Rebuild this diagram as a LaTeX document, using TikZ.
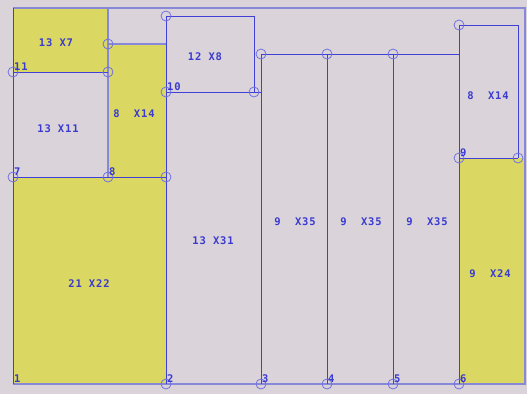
\documentclass[tikz,border=0pt]{standalone}
\usepackage{fontspec}
\newfontfamily\lblfont[LetterSpace=8]{DejaVu Sans Mono}
\definecolor{bgc}{RGB}{218,212,218}
\definecolor{yelc}{RGB}{218,216,98}
\definecolor{strongc}{RGB}{64,64,216}
\definecolor{lightc}{RGB}{136,136,216}
\definecolor{circc}{RGB}{112,112,224}
\definecolor{textc}{RGB}{58,58,208}
\begin{document}
\begin{tikzpicture}[x=1pt,y=-1pt,
  yel/.style={fill=yelc},
  sline/.style={draw=strongc, line width=1pt},
  lline/.style={draw=lightc, line width=1.2pt},
  pin/.style={circle, draw=circc, line width=0.8pt, minimum size=10pt, inner sep=0pt},
  dim/.style={text=textc, inner sep=0pt, font=\lblfont\bfseries\fontsize{10.5}{10.5}\selectfont},
  num/.style={text=textc, inner sep=0pt, anchor=south west, font=\lblfont\bfseries\fontsize{10.5}{10.5}\selectfont}]
\useasboundingbox (0,0) rectangle (527,394);
\fill[bgc] (0,0) rectangle (527,394);
% yellow regions
\fill[yel] (13,8) rectangle (108,72);
\fill[yel] (108,44) rectangle (166,177);
\fill[yel] (13,177) rectangle (166,384);
\fill[yel] (459,158) rectangle (525,384);
% coordinates
\coordinate (tl) at (13,8);
\coordinate (tr) at (525,8);
\coordinate (br) at (525,384);
\coordinate (bl) at (13,384);
\coordinate (c108t) at (108,8);
\coordinate (c12a) at (166,16);
\coordinate (c12b) at (254,16);
\coordinate (c12c) at (254,92);
\coordinate (a44) at (108,44);
\coordinate (b44) at (166,44);
\coordinate (p11) at (13,72);
\coordinate (q72) at (108,72);
\coordinate (p10) at (166,92);
\coordinate (r92) at (261,92);
\coordinate (t3) at (261,54);
\coordinate (t4) at (327,54);
\coordinate (t5) at (393,54);
\coordinate (t6) at (459,54);
\coordinate (r25a) at (459,25);
\coordinate (r25b) at (518,25);
\coordinate (p9) at (459,158);
\coordinate (r158) at (518,158);
\coordinate (p7) at (13,177);
\coordinate (p8) at (108,177);
\coordinate (m177) at (166,177);
\coordinate (p1) at (13,384);
\coordinate (p2) at (166,384);
\coordinate (p3) at (261,384);
\coordinate (p4) at (327,384);
\coordinate (p5) at (393,384);
\coordinate (p6) at (459,384);
% light lines
\draw[lline] (tl) -- (tr) -- (br) -- (bl);
\draw[lline] (c108t) -- (p8);
\draw[lline] (a44) -- (b44);
% strong lines
\draw[sline] (tl) -- (bl);
\draw[sline] (p11) -- (q72);
\draw[sline] (p7) -- (m177);
\draw[sline] (c12a) -- (p2);
\draw[sline] (c12a) -- (c12b) -- (c12c);
\draw[sline] (p10) -- (r92);
\draw[sline] (t3) -- (p3);
\draw[sline] (t4) -- (p4);
\draw[sline] (t5) -- (p5);
\draw[sline] (t3) -- (t6);
\draw[sline] (r25a) -- (p6);
\draw[sline] (r25a) -- (r25b) -- (r158);
\draw[sline] (p9) -- (r158);
% pins
\foreach \c/\n in {c12a/k1,a44/k2,p11/k3,q72/k4,p10/k5,c12c/k6,t3/k7,t4/k8,t5/k9,r25a/k10,p7/k11,p8/k12,m177/k13,p9/k14,r158/k15,p2/k16,p3/k17,p4/k18,p5/k19,p6/k20}
  \node[pin] (\n) at (\c) {};
% point numbers
\node[num] (n1) at ([shift={(1,-1.5)}]p1) {1};
\node[num] (n2) at ([shift={(1,-1.5)}]p2) {2};
\node[num] (n3) at ([shift={(1,-1.5)}]p3) {3};
\node[num] (n4) at ([shift={(1,-1.5)}]p4) {4};
\node[num] (n5) at ([shift={(1,-1.5)}]p5) {5};
\node[num] (n6) at ([shift={(1,-1.5)}]p6) {6};
\node[num] (n7) at ([shift={(1,-1.5)}]p7) {7};
\node[num] (n8) at ([shift={(1,-1.5)}]p8) {8};
\node[num] (n9) at ([shift={(1,-1.5)}]p9) {9};
\node[num] (n10) at ([shift={(1,-1.5)}]p10) {10};
\node[num] (n11) at ([shift={(1,-1.5)}]p11) {11};
% dimension labels
\node[dim] (d1) at (56,43) {13 X7};
\node[dim] (d2) at (58,129) {13 X11};
\node[dim] (d3) at (134,114) {8\ \ X14};
\node[dim] (d4) at (205,57) {12 X8};
\node[dim] (d5) at (213,241) {13 X31};
\node[dim] (d6) at (89,284) {21 X22};
\node[dim] (d7) at (295,222) {9\ \ X35};
\node[dim] (d8) at (361,222) {9\ \ X35};
\node[dim] (d9) at (427,222) {9\ \ X35};
\node[dim] (d10) at (488,96) {8\ \ X14};
\node[dim] (d11) at (490,274) {9\ \ X24};
\end{tikzpicture}
\end{document}
